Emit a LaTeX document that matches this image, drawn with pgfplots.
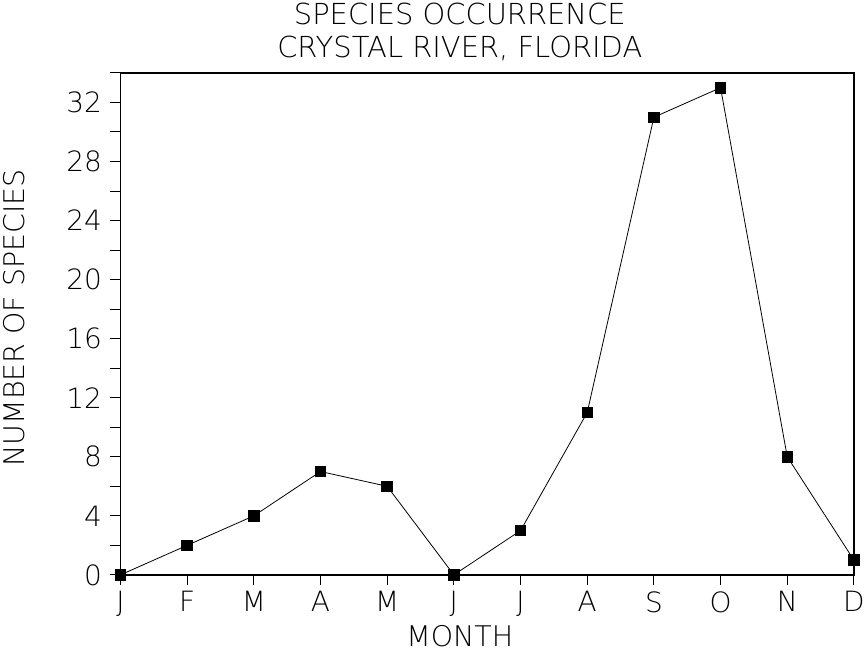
\documentclass[border=0pt]{standalone}
\usepackage{fontspec}
\setmainfont{DejaVu Sans ExtraLight}
\usepackage{pgfplots}
\pgfplotsset{compat=1.18}
\begin{document}
\begin{tikzpicture}
\begin{axis}[
    scale only axis,
    width=735pt, height=503pt,
    xmin=0, xmax=11,
    ymin=0, ymax=34,
    xtick={0,...,11},
    xticklabels={J,F,M,A,M,J,J,A,S,O,N,D},
    ytick={0,4,...,32},
    minor ytick={2,6,...,34},
    tick align=outside,
    tick pos=left,
    major tick length=10pt,
    minor tick length=10pt,
    axis line style={line width=1.6pt},
    every tick/.style={line width=1pt, black},
    /pgf/number format/assume math mode=true,
    tick label style={font=\fontsize{28}{30}\selectfont},
    xticklabel style={yshift=-3pt},
    yticklabel style={xshift=-5pt},
    xlabel={MONTH},
    ylabel={NUMBER OF SPECIES},
    label style={font=\fontsize{28.5}{32}\selectfont},
    xlabel style={at={(axis description cs:0.4626,0)}, anchor=base, yshift=-72pt, inner sep=6pt},
    ylabel style={at={(axis description cs:-0.1265,0.512)}, anchor=south, inner sep=3pt},
    title={SPECIES OCCURRENCE\\CRYSTAL RIVER, FLORIDA},
    title style={at={(axis description cs:0.4626,1)}, anchor=south, inner sep=3pt,
        font=\fontsize{29}{33}\selectfont, align=center, yshift=3pt},
    clip=false,
]
\addplot[black, line width=0.8pt, mark=square*, mark size=5.3pt,
    mark options={solid, fill=black}] coordinates {
    (0,0) (1,2) (2,4) (3,7) (4,6) (5,0)
    (6,3) (7,11) (8,31) (9,33) (10,8) (11,1)
};
\end{axis}
\end{tikzpicture}
\end{document}
